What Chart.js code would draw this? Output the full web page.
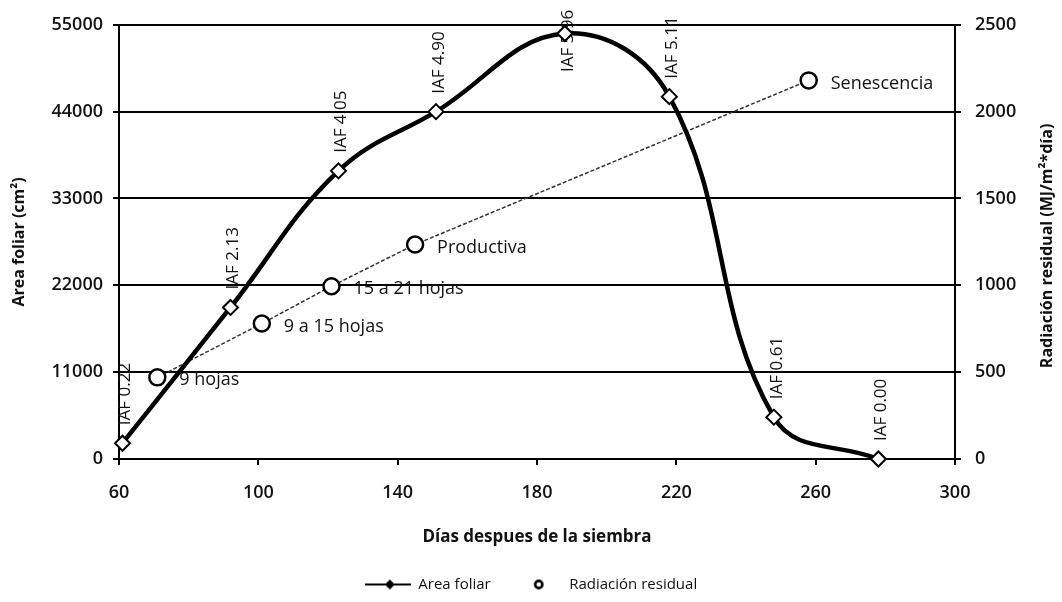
<!DOCTYPE html>
<html><head><meta charset="utf-8">
<script src="https://cdn.jsdelivr.net/npm/chart.js@4/dist/chart.umd.min.js"></script>
<style>html,body{margin:0;padding:0;background:#fff}#wrap{width:1062px;height:602px}</style>
</head><body><div id="wrap"><canvas id="c" width="1062" height="602"></canvas></div>
<script>
// ---- data ----
const days = [61, 92, 123, 151, 188, 218, 248, 278];
const areaFoliar = [2000, 19200, 36500, 44000, 53900, 45900, 5300, 0];
const iafLabels = ['0.22', '2.13', '4.05', '4.90', '5.96', '5.11', '0.61', '0.00'];
const radDays = [71, 101, 121, 145, 258];
const radiacion = [470, 780, 995, 1235, 2180];
const radLabels = ['9 hojas', '9 a 15 hojas', '15 a 21 hojas', 'Productiva', 'Senescencia'];
const xTicks = [60, 100, 140, 180, 220, 260, 300];
const yLeftTicks = [0, 11000, 22000, 33000, 44000, 55000];
const yRightTicks = [0, 500, 1000, 1500, 2000, 2500];
const seriesNames = ['Area foliar', 'Radiación residual'];
const rightTitle = 'Radiación residual (MJ/m²*día)';

Chart.defaults.font.family = "'Open Sans', sans-serif";
Chart.defaults.color = '#111';

function makeIcon(kind) {
  const c = document.createElement('canvas');
  c.width = 46; c.height = 16;
  const g = c.getContext('2d');
  if (kind === 0) {
    g.strokeStyle = '#000'; g.lineWidth = 2;
    g.beginPath(); g.moveTo(0, 8); g.lineTo(46, 8); g.stroke();
    g.fillStyle = '#000';
    g.beginPath(); g.moveTo(25, 3); g.lineTo(30, 8); g.lineTo(25, 13); g.lineTo(20, 8); g.closePath(); g.fill();
  } else {
    g.strokeStyle = '#000'; g.lineWidth = 2.6; g.fillStyle = '#fff';
    g.beginPath(); g.arc(23, 8, 3.6, 0, Math.PI * 2); g.fill(); g.stroke();
  }
  return c;
}
const icons = [makeIcon(0), makeIcon(1)];

const labelPlugin = {
  id: 'pointLabels',
  beforeDatasetsDraw(chart) {
    const ctx = chart.ctx;
    const meta = chart.getDatasetMeta(0);
    ctx.save();
    ctx.font = "17px 'Open Sans'";
    ctx.fillStyle = '#111';
    ctx.textBaseline = 'middle';
    ctx.textAlign = 'left';
    meta.data.forEach((pt, i) => {
      const t = 'IAF ' + iafLabels[i];
      const w = ctx.measureText(t).width;
      let yb = pt.y - 18;
      const minTop = chart.chartArea.top - 15;
      if (yb - w < minTop) yb = minTop + w;
      ctx.save();
      ctx.translate(pt.x + 3, yb);
      ctx.rotate(-Math.PI / 2);
      ctx.fillText(t, 0, 0);
      ctx.restore();
    });
    ctx.restore();
  },
  afterDatasetsDraw(chart) {
    const ctx = chart.ctx;
    const meta = chart.getDatasetMeta(1);
    ctx.save();
    ctx.font = "18px 'Open Sans'";
    ctx.fillStyle = '#111';
    ctx.textBaseline = 'middle';
    ctx.textAlign = 'left';
    meta.data.forEach((pt, i) => {
      ctx.fillText(radLabels[i], pt.x + 22, pt.y + 3);
    });
    ctx.restore();
  },
  afterDraw(chart) {
    // right axis title, reading bottom-to-top like the reference
    const ctx = chart.ctx;
    const s = chart.scales.y2;
    ctx.save();
    ctx.font = "bold 16px 'Open Sans'";
    ctx.fillStyle = '#111';
    ctx.textAlign = 'center';
    ctx.textBaseline = 'middle';
    ctx.translate(s.right - 15, (s.top + s.bottom) / 2 + 4);
    ctx.rotate(-Math.PI / 2);
    ctx.fillText(rightTitle, 0, 0);
    ctx.restore();
  }
};

const fixTicks = (arr) => (scale) => { scale.ticks = arr.map(v => ({ value: v })); };
const plain = (v) => String(v);

new Chart(document.getElementById('c'), {
  type: 'line',
  data: {
    datasets: [
      {
        label: seriesNames[0],
        data: days.map((d, i) => ({ x: d, y: areaFoliar[i] })),
        yAxisID: 'y',
        borderColor: '#000',
        borderWidth: 4.5,
        tension: 0.4,
        pointStyle: 'rectRot',
        pointRadius: 7.5,
        pointBorderWidth: 2,
        pointBackgroundColor: '#fff',
        pointBorderColor: '#000',
        clip: false
      },
      {
        label: seriesNames[1],
        data: radDays.map((d, i) => ({ x: d, y: radiacion[i] })),
        yAxisID: 'y2',
        borderColor: '#333',
        borderWidth: 1.5,
        borderDash: [4, 2],
        tension: 0,
        pointStyle: 'circle',
        pointRadius: 8,
        pointBorderWidth: 2.5,
        pointBackgroundColor: '#fff',
        pointBorderColor: '#000',
        clip: false
      }
    ]
  },
  options: {
    responsive: false,
    devicePixelRatio: 1,
    animation: false,
    layout: { padding: { top: 24, bottom: 0, left: 0, right: 0 } },
    plugins: {
      tooltip: { enabled: false },
      legend: {
        position: 'bottom',
        labels: {
          usePointStyle: true,
          pointStyleWidth: 46,
          padding: 25,
          font: { size: 15 },
          color: '#111',
          generateLabels: (chart) => chart.data.datasets.map((ds, i) => ({
            text: ds.label, pointStyle: icons[i], fontColor: '#111',
            fillStyle: 'transparent', strokeStyle: 'transparent', lineWidth: 0,
            hidden: false, datasetIndex: i
          }))
        }
      }
    },
    scales: {
      x: {
        type: 'linear',
        min: 60, max: 300,
        afterBuildTicks: fixTicks(xTicks),
        afterFit: (s) => { s.height = 93; },
        grid: { drawOnChartArea: false, drawTicks: true, tickLength: 6, color: '#000', lineWidth: 2 },
        border: { color: '#000', width: 2 },
        ticks: { padding: 17, font: { size: 18, weight: '600' }, color: '#111', maxRotation: 0, callback: plain },
        title: { display: true, text: 'Días despues de la siembra', font: { size: 17, weight: 'bold' }, color: '#111', padding: { top: 0, bottom: 5 } }
      },
      y: {
        position: 'left',
        min: 0, max: 55000,
        afterBuildTicks: fixTicks(yLeftTicks),
        afterFit: (s) => { s.width = 119; },
        grid: { color: '#000', lineWidth: 2, tickLength: 6 },
        border: { color: '#000', width: 2 },
        ticks: { padding: 10, font: { size: 18, weight: '600' }, color: '#111', callback: plain },
        title: { display: true, text: 'Area foliar (cm²)', font: { size: 16, weight: 'bold' }, color: '#111', padding: { top: 10, bottom: 0 } }
      },
      y2: {
        position: 'right',
        min: 0, max: 2500,
        afterBuildTicks: fixTicks(yRightTicks),
        afterFit: (s) => { s.width = 107; },
        grid: { drawOnChartArea: false, color: '#000', lineWidth: 2, tickLength: 6 },
        border: { color: '#000', width: 2 },
        ticks: { padding: 14, font: { size: 18, weight: '600' }, color: '#111', callback: plain },
        title: { display: false }
      }
    }
  },
  plugins: [labelPlugin]
});
</script>
</body></html>
